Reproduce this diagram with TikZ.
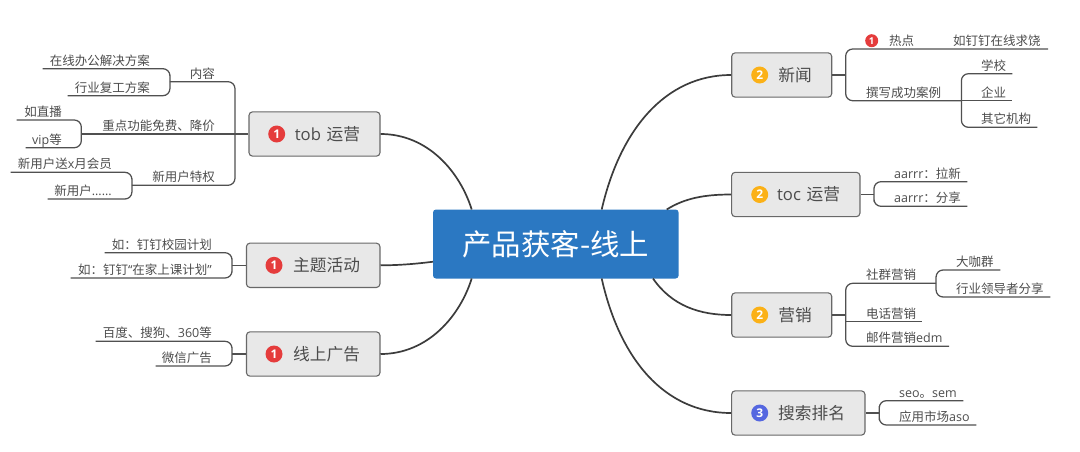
\documentclass[tikz,border=0pt]{standalone}
\usepackage{fontspec}
\setmainfont{Noto Sans CJK SC}
\newfontfamily\lat{Open Sans}
\definecolor{txt}{HTML}{4C4C4C}
\definecolor{lne}{HTML}{505050}
\definecolor{mainl}{HTML}{3C3C3C}
\definecolor{rootc}{HTML}{2B78C2}
\definecolor{boxf}{HTML}{E8E8E8}
\definecolor{boxd}{HTML}{686868}
\definecolor{redi}{HTML}{E53C3C}
\definecolor{yeli}{HTML}{FBB117}
\definecolor{blui}{HTML}{5567E0}
\tikzset{
  rootbox/.style={fill=rootc,rounded corners=3pt,text=white,minimum width=245.6pt,minimum height=69pt,inner sep=0pt,font=\fontsize{29.4}{34}\selectfont},
  topic/.style={draw=boxd,fill=boxf,line width=1.1pt,rounded corners=3.5pt,text=txt,text width=#1-40pt,inner xsep=20pt,inner ysep=0pt,align=right,minimum height=44.3pt,font=\fontsize{16.7}{20}\selectfont},
  badge/.style={circle,fill=#1,text=white,inner sep=0pt,minimum size=17pt,font=\fontsize{12}{13}\selectfont\bfseries\lat},
  smallbadge/.style={circle,fill=#1,text=white,inner sep=0pt,minimum size=13pt,font=\fontsize{9.5}{11}\selectfont\bfseries\lat},
  leafbase/.style={text=txt,inner xsep=0pt,inner ysep=3.3pt,text depth=0pt,font=\fontsize{12.5}{15}\selectfont},
  leafl/.style={leafbase,anchor=south east,text width=#1,align=right},
  leafr/.style={leafbase,anchor=south west,text width=#1,align=left},
  mainline/.style={draw=mainl,line width=1.7pt},
  branch/.style={draw=lne,line width=1.25pt},
  elbow/.style={branch,rounded corners=7pt},
}
\begin{document}
\begin{tikzpicture}[x=1pt,y=-1pt]
\useasboundingbox (0,0) rectangle (1080,451);
% root
\node[rootbox] (root) at (555.8,244) {产品获客-线上};
\coordinate (rtl) at (471.7,209.5);
\coordinate (rl) at (433,261.7);
\coordinate (rbl) at (471.7,278.5);
\coordinate (rt1) at (601.7,209.5);
\coordinate (rt2) at (666.7,209.5);
\coordinate (rb1) at (653,278.5);
\coordinate (rb2) at (601.7,278.5);
% topics
\node[topic=131pt] (tob) at (314.5,134) {{\lat tob} 运营};
\node[topic=133.5pt] (act) at (313.2,265.3) {主题活动};
\node[topic=133.5pt] (ads) at (313.2,354) {线上广告};
\node[topic=100pt] (news) at (781.7,75) {新闻};
\node[topic=128.3pt] (toc) at (795.8,194.5) {{\lat toc} 运营};
\node[topic=100pt] (mkt) at (781.7,315) {营销};
\node[topic=133.3pt] (seo) at (798.3,413) {搜索排名};
\node[badge=redi] (b1) at (276.7,134) {1};
\node[badge=redi] (b2) at (274,265.3) {1};
\node[badge=redi] (b3) at (274,354) {1};
\node[badge=yeli] (b4) at (759.7,75) {2};
\node[badge=yeli] (b5) at (759.7,194.5) {2};
\node[badge=yeli] (b6) at (759.7,315) {2};
\node[badge=blui] (b7) at (759.7,413) {3};
% main connectors
\draw[mainline] (tob.east) .. controls (428,134) and (460,172) .. (rtl);
\draw[mainline] (act.east) .. controls (398,265.3) and (415,264) .. (rl);
\draw[mainline] (ads.east) .. controls (428,354) and (460,316) .. (rbl);
\draw[mainline] (news.west) .. controls (665,75) and (620,130) .. (rt1);
\draw[mainline] (toc.west) .. controls (705,194.5) and (685,198) .. (rt2);
\draw[mainline] (mkt.west) .. controls (700,315) and (672,306) .. (rb1);
\draw[mainline] (seo.west) .. controls (665,413) and (620,360) .. (rb2);
% tob leaves
\node[leafl=107pt] (l1) at (150,68.7) {在线办公解决方案};
\node[leafl=82pt] (l2) at (150,95.7) {行业复工方案};
\node[leafl=44.7pt] (l3) at (215,81.7) {内容};
\node[leafl=45pt] (l4) at (62,120) {如直播};
\node[leafl=36pt] (l5) at (62,147.7) {{\lat vip}等};
\node[leafl=133.3pt] (l6) at (215,134) {重点功能免费、降价};
\node[leafl=101pt] (l7) at (112,172.3) {新用户送{\lat x}月会员};
\node[leafl=64pt] (l8) at (112,199) {新用户{\lat ......}};
\node[leafl=82.7pt] (l9) at (215,185.3) {新用户特权};
\coordinate (j1) at (235,134);
\draw[elbow] (l1.south west) -| (l3.south west) |- (l2.south west);
\draw[elbow] (l4.south west) -| (l6.south west) |- (l5.south west);
\draw[elbow] (l7.south west) -| (l9.south west) |- (l8.south west);
\draw[elbow] (l3.south west) -| (j1) |- (l9.south west);
\draw[branch] (l6.south west) -- (tob.west);
% act leaves
\coordinate (j2) at (232,265.3);
\node[leafl=107pt] (a1) at (212,252.7) {如：钉钉校园计划};
\node[leafl=141pt] (a2) at (212,278) {如：钉钉{\lat “}在家上课计划{\lat ”}};
\draw[elbow] (a1.south west) -| (j2) |- (a2.south west);
\draw[branch] (j2) -- (act.west);
% ads leaves
\coordinate (j3) at (232,354);
\node[leafl=116pt] (d1) at (212,341.3) {百度、搜狗、{\lat 360}等};
\node[leafl=56pt] (d2) at (212,366) {微信广告};
\draw[elbow] (d1.south west) -| (j3) |- (d2.south west);
\draw[branch] (j3) -- (ads.west);
% news leaves
\coordinate (j4) at (845.7,75);
\node[smallbadge=redi] (hb) at (871.7,40.7) {1};
\node[leafr=25pt] (n1) at (889,49) {热点};
\node[leafr=94.7pt] (n2) at (953,49) {如钉钉在线求饶};
\node[leafr=95pt] (n3) at (866,100.7) {撰写成功案例};
\node[leafr=31pt] (n4) at (981,73.7) {学校};
\node[leafr=31pt] (n5) at (981,100.7) {企业};
\node[leafr=56pt] (n6) at (981,127.3) {其它机构};
\draw[elbow] (n2.south east) -| (j4) |- (n3.south east);
\draw[branch] (j4) -- (news.east);
\draw[elbow] (n4.south east) -| (n3.south east) |- (n6.south east);
\draw[branch] (n3.south east) -- (n5.south east);
% toc leaves
\coordinate (j5) at (874,194.5);
\node[leafr=73pt] (t1) at (894,181.7) {{\lat aarrr}：拉新};
\node[leafr=73pt] (t2) at (894,206.3) {{\lat aarrr}：分享};
\draw[elbow] (t1.south east) -| (j5) |- (t2.south east);
\draw[branch] (j5) -- (toc.east);
% mkt leaves
\coordinate (j6) at (845.7,315);
\node[leafr=69.7pt] (m1) at (866,283.3) {社群营销};
\node[leafr=44pt] (m2) at (956,270) {大咖群};
\node[leafr=94pt] (m3) at (956,297) {行业领导者分享};
\node[leafr=56pt] (m4) at (866,321.7) {电话营销};
\node[leafr=82.7pt] (m5) at (866,346.3) {邮件营销{\lat edm}};
\draw[elbow] (m1.south east) -| (j6) |- (m5.south east);
\draw[branch] (mkt.east) -- (j6);
\draw[branch] (j6 |- m4.south east) -- (m4.south east);
\draw[elbow] (m2.south east) -| (m1.south east) |- (m3.south east);
% seo leaves
\coordinate (j7) at (879.3,413);
\node[leafr=64pt] (s1) at (899,400.7) {{\lat seo}。{\lat sem}};
\node[leafr=77pt] (s2) at (899,425) {应用市场{\lat aso}};
\draw[elbow] (s1.south east) -| (j7) |- (s2.south east);
\draw[branch] (j7) -- (seo.east);
\end{tikzpicture}
\end{document}
